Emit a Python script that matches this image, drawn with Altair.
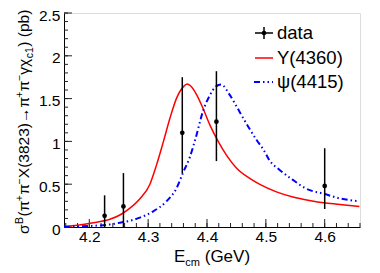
import altair as alt
import pandas as pd

# ---- data ----
energy = [4.226, 4.258, 4.358, 4.416, 4.600]
xsec = [0.13, 0.24, 1.10, 1.23, 0.48]
xsec_hi = [0.37, 0.63, 1.75, 1.82, 0.92]
xsec_lo = [0.0, 0.0, 0.63, 0.77, 0.21]

y4360_E = [4.157, 4.18, 4.207, 4.235, 4.252, 4.269, 4.286, 4.303, 4.314, 4.326, 4.337,
           4.348, 4.360, 4.366, 4.372, 4.382, 4.393, 4.405, 4.419, 4.433, 4.450, 4.472,
           4.489, 4.518, 4.546, 4.574, 4.602, 4.630, 4.659]
y4360_v = [0.005, 0.02, 0.05, 0.09, 0.14, 0.22, 0.33, 0.50, 0.72, 1.00, 1.27,
           1.50, 1.64, 1.67, 1.65, 1.55, 1.39, 1.19, 1.00, 0.84, 0.69, 0.57,
           0.50, 0.41, 0.35, 0.31, 0.28, 0.26, 0.24]

psi4415_E = [4.157, 4.2, 4.235, 4.252, 4.270, 4.286, 4.308, 4.331, 4.348, 4.359, 4.371,
             4.382, 4.393, 4.405, 4.415, 4.424, 4.438, 4.455, 4.472, 4.484, 4.498, 4.506,
             4.523, 4.546, 4.568, 4.600, 4.625, 4.659]
psi4415_v = [0.002, 0.012, 0.03, 0.05, 0.075, 0.11, 0.18, 0.30, 0.45, 0.63, 0.82,
             1.07, 1.35, 1.54, 1.64, 1.665, 1.55, 1.35, 1.15, 1.02, 0.88, 0.78,
             0.67, 0.55, 0.45, 0.385, 0.335, 0.30]

x_major = [4.2, 4.3, 4.4, 4.5, 4.6]
y_major = [0, 0.5, 1, 1.5, 2, 2.5]

W, H = 296, 214
XDOM = [4.157, 4.66]
FONT = "Liberation Sans"

xs = alt.Scale(domain=XDOM, nice=False, zero=False)
ys = alt.Scale(domain=[0, 2.5], nice=False)

x_minor = [round(4.16 + 0.02 * i, 2) for i in range(26)]
y_minor = [round(0.1 * i, 1) for i in range(26)]

one = pd.DataFrame({"a": [0]})

# axes (labels only, ticks drawn inward with rules)
base_axes = alt.Chart(pd.DataFrame({"E": [XDOM[0]], "v": [0.0]})).mark_point(opacity=0).encode(
    x=alt.X("E:Q", scale=xs, axis=alt.Axis(values=x_major, format=".1f", ticks=False, grid=False,
                                            labelFontSize=15.5, labelFont=FONT, labelColor="black",
                                            labelPadding=2, title=None, domainColor="black")),
    y=alt.Y("v:Q", scale=ys, axis=alt.Axis(values=y_major, format="~g", ticks=False, grid=False,
                                            labelFontSize=15.5, labelFont=FONT, labelColor="black",
                                            labelPadding=4, labelOffset=2, title=None,
                                            domainColor="black")),
)

xmin_df = pd.DataFrame({"E": x_minor})
xmaj_df = pd.DataFrame({"E": x_major})
ymin_df = pd.DataFrame({"v": y_minor})
ymaj_df = pd.DataFrame({"v": y_major})

tick_col = "#222"
xt_minor = alt.Chart(xmin_df).mark_rule(color=tick_col, strokeWidth=1).encode(
    x=alt.X("E:Q", scale=xs), y=alt.value(H), y2=alt.value(H - 4))
xt_major = alt.Chart(xmaj_df).mark_rule(color=tick_col, strokeWidth=1).encode(
    x=alt.X("E:Q", scale=xs), y=alt.value(H), y2=alt.value(H - 8))
yt_minor = alt.Chart(ymin_df).mark_rule(color=tick_col, strokeWidth=1).encode(
    y=alt.Y("v:Q", scale=ys), x=alt.value(0), x2=alt.value(4))
yt_major = alt.Chart(ymaj_df).mark_rule(color=tick_col, strokeWidth=1).encode(
    y=alt.Y("v:Q", scale=ys), x=alt.value(0), x2=alt.value(8))

red_df = pd.DataFrame({"E": y4360_E, "v": y4360_v})
blue_df = pd.DataFrame({"E": psi4415_E, "v": psi4415_v})
red = alt.Chart(red_df).mark_line(color="#ff0000", strokeWidth=1.5, interpolate="monotone").encode(
    x=alt.X("E:Q", scale=xs), y=alt.Y("v:Q", scale=ys))
blue = alt.Chart(blue_df).mark_line(color="#0000ff", strokeWidth=2, interpolate="monotone",
                                    strokeDash=[6, 3, 1.5, 3, 1.5, 3]).encode(
    x=alt.X("E:Q", scale=xs), y=alt.Y("v:Q", scale=ys))

pts_df = pd.DataFrame({"E": energy, "v": xsec, "lo": xsec_lo, "hi": xsec_hi})
bars = alt.Chart(pts_df).mark_rule(color="black", strokeWidth=1.5).encode(
    x=alt.X("E:Q", scale=xs), y=alt.Y("lo:Q", scale=ys), y2="hi:Q")
dots = alt.Chart(pts_df).mark_circle(color="black", size=22, opacity=1).encode(
    x=alt.X("E:Q", scale=xs), y=alt.Y("v:Q", scale=ys))

layers = [base_axes, xt_minor, xt_major, yt_minor, yt_major, red, blue, bars, dots]

def txt(s, x, y, size, angle=0):
    return alt.Chart(one).mark_text(text=s, font=FONT, fontSize=size, angle=angle, align="left",
                                    baseline="alphabetic", color="black").encode(
        x=alt.value(x), y=alt.value(y))

# legend
LX0, LX1 = 191, 209
layers += [
    alt.Chart(one).mark_rule(color="black", strokeWidth=1.5).encode(x=alt.value(LX0), x2=alt.value(LX1), y=alt.value(20)),
    alt.Chart(one).mark_rule(color="black", strokeWidth=1.5).encode(x=alt.value(200), y=alt.value(14), y2=alt.value(26)),
    alt.Chart(one).mark_circle(color="black", size=22, opacity=1).encode(x=alt.value(200), y=alt.value(20)),
    txt("data", 213, 26, 18.5),
    alt.Chart(one).mark_rule(color="#ff0000", strokeWidth=1.5).encode(x=alt.value(LX0), x2=alt.value(LX1), y=alt.value(45)),
    txt("Y(4360)", 213, 51, 18.5),
    alt.Chart(one).mark_rule(color="#0000ff", strokeWidth=2, strokeDash=[6, 3, 1.5, 3, 1.5, 3]).encode(
        x=alt.value(LX0 - 1), x2=alt.value(LX1), y=alt.value(69)),
    txt("ψ(4415)", 213, 75, 18.5),
]

# x title: E_cm (GeV)
F = 17
S = 11
xt_y = 249
x0 = 110
layers += [txt("E", x0, xt_y, F), txt("cm", x0 + 0.667 * F, xt_y + 4, S),
           txt("(GeV)", x0 + 0.667 * F + 1.333 * S + 0.278 * F, xt_y, F)]

# y title segments (rotated)
FY, SY = 15.5, 10.5
segs = [("σ", "n", 0.64), ("B", "sup", 0.72), ("(π", "n", 0.333 + 0.66), ("+", "sup", 0.62),
        ("π", "n", 0.64), ("−", "sup", 0.62), ("X(3823)→π", "n", 3.557 + 1.0 + 0.64),
        ("+", "sup", 0.62), ("π", "n", 0.64), ("−", "sup", 0.62), ("γχ", "n", 0.5 + 0.56),
        ("c1", "sub", 1.1), (")", "n", 0.333 + 0.278), ("(pb)", "n", 1.778)]
ypos = 221
bx = -35
for s, kind, w in segs:
    size = FY if kind == "n" else SY
    xb = bx if kind == "n" else (bx - 6 if kind == "sup" else bx + 4)
    layers.append(txt(s, xb, ypos, size, angle=270))
    ypos -= w * size

chart = alt.layer(*layers).properties(
    width=W, height=H,
    autosize=alt.AutoSizeParams(type="none"),
    padding={"left": 56, "top": 5, "right": 12, "bottom": 40},
).configure_view(stroke="#666", strokeWidth=1).configure(background="white")

chart.save("out.html", embed_options={"renderer": "svg", "actions": False})
